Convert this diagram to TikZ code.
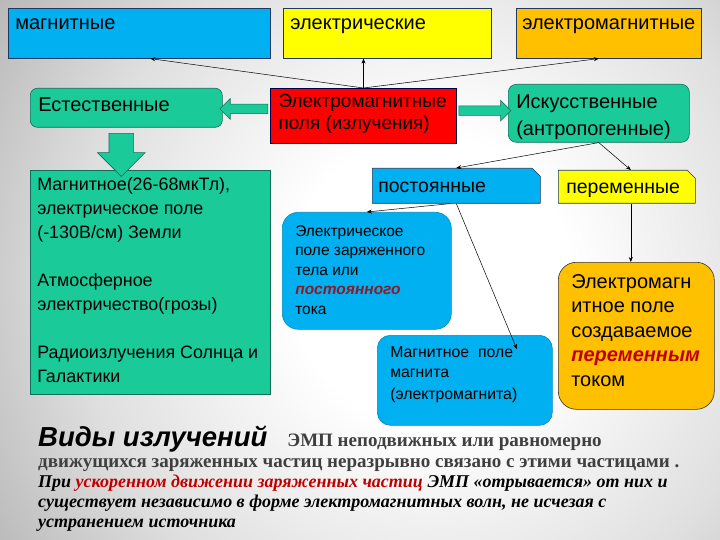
\documentclass[tikz,border=0pt]{standalone}
\usepackage{fontspec}
\setmainfont{Liberation Sans}
\newfontfamily\timesfont{Liberation Serif}
\usetikzlibrary{positioning,calc,shapes.misc,shapes.arrows,arrows.meta}

\definecolor{cyanbox}{HTML}{00B0F0}
\definecolor{yellowbox}{HTML}{FFFF00}
\definecolor{orangebox}{HTML}{FFC000}
\definecolor{greenbox}{HTML}{1ACB99}
\definecolor{redbox}{HTML}{FF0000}
\definecolor{greenline}{HTML}{0F6E55}
\definecolor{navyline}{HTML}{1F3864}
\definecolor{darkred}{HTML}{8B1A2A}
\definecolor{brightred}{HTML}{C00000}
\definecolor{darktxt}{HTML}{3F3F3F}

\pgfdeclareradialshading{slidebg}{\pgfpoint{0bp}{0bp}}{color(0bp)=(white); color(8bp)=(white); color(20bp)=(gray!25); color(33bp)=(gray!68); color(50bp)=(gray!100)}

% width, height, top pad, lines
\newcommand{\boxtxt}[4]{\parbox[c][#2][t]{#1}{\vspace*{#3}\begin{tabular}[t]{@{}l@{}}#4\end{tabular}}}

\tikzset{
	box/.style={anchor=north west, inner ysep=0pt, inner xsep=7pt, draw=navyline, line width=0.6pt},
	greenbox/.style={box, fill=greenbox, draw=greenline},
	cyanround/.style={box, fill=cyanbox, draw=cyanbox!80!black},
	snipped/.style={box, chamfered rectangle, chamfered rectangle corners=north east, chamfered rectangle xsep=4pt, chamfered rectangle ysep=4pt},
	link/.style={-{Stealth[length=5pt,width=4pt]}, line width=0.5pt},
	fatarrow/.style={single arrow, draw=greenline, fill=greenbox, line width=0.6pt, single arrow head indent=0pt}
}

\begin{document}
\begin{tikzpicture}[x=1pt, y=-1pt]
	\useasboundingbox (0, 0) rectangle (720, 540);
	\begin{scope}
		\clip (0, 0) rectangle (720, 540);
		\shade[shading=slidebg] (-10, -170) rectangle (870, 730);
	\end{scope}

	% top row
	\node[box, fill=cyanbox, font=\fontsize{20}{23}\selectfont] (mag) at (8, 8) {\boxtxt{248pt}{50pt}{5pt}{магнитные}};
	\node[box, fill=yellowbox, font=\fontsize{20}{23}\selectfont] (el) at (283, 8) {\boxtxt{194pt}{50pt}{5pt}{электрические}};
	\node[box, fill=orangebox, inner xsep=6pt, font=\fontsize{20}{23}\selectfont] (emag) at (516, 8) {\boxtxt{173pt}{50pt}{5pt}{электромагнитные}};

	% middle row
	\node[greenbox, rounded corners=7pt, inner xsep=8pt, font=\fontsize{20}{22}\selectfont] (nat) at (30, 88) {\boxtxt{176pt}{39pt}{8pt}{Естественные}};
	\node[box, fill=redbox, draw=black!70!blue, line width=1pt, inner xsep=8pt, font=\fontsize{19}{22}\selectfont] (emf) at (270, 88) {\boxtxt{170pt}{55pt}{4pt}{Электромагнитные\\ поля (излучения)}};
	\node[greenbox, rounded corners=8pt, inner xsep=8pt, font=\fontsize{20}{27}\selectfont] (art) at (508, 84) {\boxtxt{165pt}{58pt}{5pt}{Искусственные\\ (антропогенные)}};

	\node[greenbox, font=\fontsize{17.9}{24}\selectfont] (nature) at (30, 170) {\boxtxt{226pt}{224pt}{3.2pt}{Магнитное(26-68мкТл),\\ электрическое поле\\ (-130В/см) Земли\\[24pt] Атмосферное\\ электричество(грозы)\\[24pt] Радиоизлучения Солнца и\\ Галактики}};

	\node[snipped, fill=cyanbox, inner xsep=2pt, font=\fontsize{19.5}{23}\selectfont] (const) at (372, 168) {\boxtxt{156pt}{27pt}{4pt}{постоянные}};
	\node[snipped, fill=yellowbox, inner xsep=4pt, font=\fontsize{19.5}{23}\selectfont] (var) at (558, 170) {\boxtxt{121pt}{25pt}{3pt}{переменные}};

	% lower boxes
	\node[cyanround, rounded corners=16pt, inner xsep=13pt, font=\fontsize{15.5}{19.5}\selectfont] (elbox) at (282, 212) {\boxtxt{143pt}{117pt}{10.3pt}{Электрическое\\ поле заряженного\\ тела или\\ \textcolor{darkred}{\bfseries\itshape постоянного}\\ тока}};
	\node[cyanround, rounded corners=13pt, inner xsep=13pt, font=\fontsize{15.8}{20}\selectfont] (magbox) at (377, 335) {\boxtxt{149pt}{90pt}{8pt}{Магнитное\ \ поле\\ магнита\\[2pt] (электромагнита)}};
	\node[box, fill=orangebox, draw=black!80, rounded corners=18pt, inner xsep=13pt, font=\fontsize{20}{24.5}\selectfont] (embox) at (558, 262) {\boxtxt{130pt}{147pt}{8.9pt}{Электромагн\\ итное поле\\ создаваемое\\ \textcolor{brightred}{\bfseries\itshape переменным}\\ током}};

	% thick arrows
	\node[fatarrow, inner sep=4.5pt, minimum height=48pt, single arrow head extend=5.5pt, shape border rotate=180, yshift=3pt] (toNat) at ($(nat.east)!0.5!(emf.west)$) {};
	\node[fatarrow, inner sep=4.5pt, minimum height=52pt, single arrow head extend=5.5pt, yshift=4pt] (toArt) at ($(emf.east)!0.5!(art.west)$) {};
	\node[fatarrow, inner sep=12pt, minimum height=43pt, single arrow head extend=11.5pt, shape border rotate=270, xshift=-5pt] (toNature) at ($(nat.south)!0.5!(nat.south |- nature.north)$) {};

	% thin arrows
	\draw[link] (emf.north) -- ([xshift=11pt]mag.south);
	\draw[link] (emf.north) -- (emf.north |- el.south);
	\draw[link] (emf.north) -- ([xshift=-10pt]emag.south);
	\draw[link] (art.south) -- (const.north);
	\draw[link] (art.south) -- ([xshift=4pt]var.north);
	\draw[link] ([xshift=-6pt]const.south) -- (elbox.north);
	\draw[link] (const.south) -- ([xshift=52pt,yshift=-14pt]magbox.north);
	\draw[link] ([xshift=4pt]var.south) -- ([xshift=4pt]var.south |- embox.north);

	% Labels
	\node[anchor=base west, inner sep=0pt] (title) at (38, 446) {{\fontsize{27.5}{30}\selectfont\bfseries\itshape Виды излучений}\hspace{20pt}{\timesfont\bfseries\fontsize{19}{20}\selectfont\color{darktxt}ЭМП неподвижных или равномерно}};
	\node[anchor=base west, inner sep=0pt, font=\timesfont\bfseries\fontsize{19}{20.3}\selectfont] (note) at (38, 467) {\begin{tabular}[t]{@{}l@{}}
		\textcolor{darktxt}{движущихся заряженных частиц неразрывно связано с этими частицами .}\\
		\itshape\fontsize{18}{20.3}\selectfont При \textcolor{brightred}{ускоренном движении заряженных частиц} ЭМП «отрывается» от них и\\
		\itshape\fontsize{18}{20.3}\selectfont существует независимо в форме электромагнитных волн, не исчезая с\\
		\itshape\fontsize{18}{20.3}\selectfont устранением источника
	\end{tabular}};
\end{tikzpicture}
\end{document}
